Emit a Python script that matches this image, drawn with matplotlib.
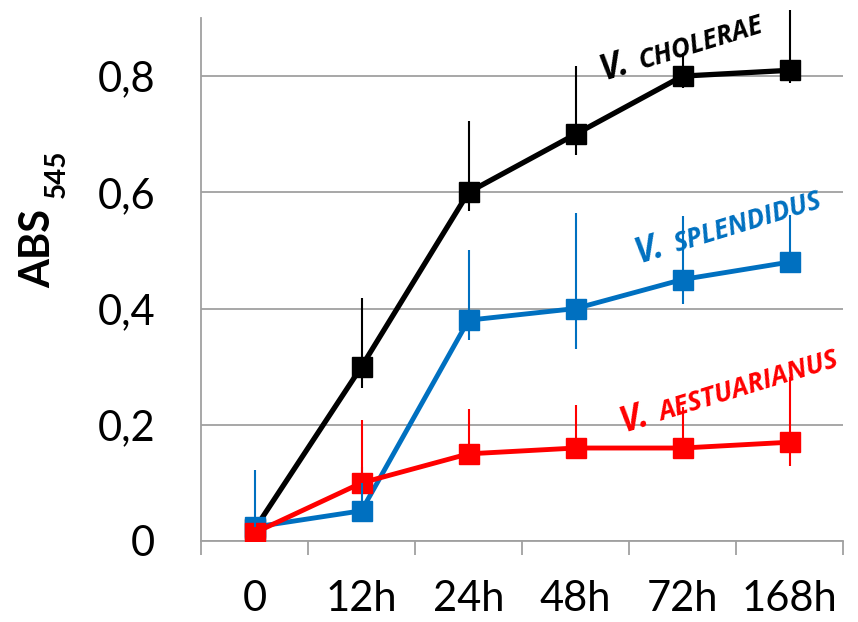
import numpy as np
import matplotlib
matplotlib.use("Agg")
import matplotlib.pyplot as plt
from matplotlib import font_manager

# datos
tiempos = ["0", "12h", "24h", "48h", "72h", "168h"]

cholerae = [0.02, 0.30, 0.60, 0.70, 0.80, 0.81]
cholerae_lo = [0.0, 0.037, 0.032, 0.036, 0.021, 0.022]
cholerae_hi = [0.0, 0.118, 0.123, 0.118, 0.040, 0.104]

splendidus = [0.024, 0.052, 0.38, 0.40, 0.45, 0.48]
splendidus_lo = [0.0, 0.0, 0.034, 0.070, 0.043, 0.0]
splendidus_hi = [0.098, 0.075, 0.120, 0.164, 0.110, 0.081]

aestuarianus = [0.014, 0.10, 0.15, 0.16, 0.16, 0.17]
aest_lo = [0.0, 0.0, 0.0, 0.0, 0.0, 0.041]
aest_hi = [0.0, 0.108, 0.078, 0.074, 0.070, 0.112]

y_ticks = [0, 0.2, 0.4, 0.6, 0.8]

NEGRO = "#000000"
AZUL = "#0070C0"
ROJO = "#FF0000"
GRIS = "#A0A0A0"

plt.rcParams["font.family"] = ["Lato", "DejaVu Sans"]

# fuente con cursiva negrita para los nombres
estilos = {(f.name, f.style, f.weight) for f in font_manager.fontManager.ttflist}
FAM_IT = "DejaVu Sans"
for fam in ["Open Sans", "Noto Sans", "Lato", "Liberation Sans"]:
    if any(n == fam and s == "italic" and (w == 700 or w == "bold") for n, s, w in estilos):
        FAM_IT = fam
        break

fig = plt.figure(figsize=(8.58, 6.22), dpi=100)
ax = fig.add_axes([201 / 858, 81 / 622, 642 / 858, 523 / 622])

x = np.arange(len(tiempos))

series = [
    (cholerae, cholerae_lo, cholerae_hi, NEGRO, 3.8),
    (splendidus, splendidus_lo, splendidus_hi, AZUL, 3.5),
    (aestuarianus, aest_lo, aest_hi, ROJO, 3.5),
]
for i, (vals, lo, hi, col, lw) in enumerate(series):
    ax.plot(x, vals, color=col, lw=lw, marker="s", ms=14, zorder=3 + i,
            solid_joinstyle="miter")
for i, (vals, lo, hi, col, lw) in enumerate(series):
    eb = ax.errorbar(x, vals, yerr=[lo, hi], fmt="none", ecolor=col,
                     elinewidth=1.5, capsize=0, zorder=7 + i)
    for c in eb[2]:
        c.set_clip_on(False)

ax.set_xlim(-0.5, len(tiempos) - 0.5)
ax.set_ylim(0, 0.9)

# ejes
for s in ["top", "right"]:
    ax.spines[s].set_visible(False)
for s in ["left", "bottom"]:
    ax.spines[s].set_color(GRIS)
    ax.spines[s].set_linewidth(1.3)

ax.set_yticks(y_ticks)
ax.set_yticklabels([("%g" % v).replace(".", ",") for v in y_ticks])
ax.tick_params(axis="y", length=0, pad=33, labelsize=30)
ax.yaxis.grid(True, color=GRIS, lw=1.3)
ax.set_axisbelow(True)

ax.set_xticks(np.arange(-0.5, len(tiempos), 1.0))
ax.set_xticklabels([])
ax.tick_params(axis="x", which="major", length=10, width=1.3, color=GRIS)
ax.set_xticks(x, minor=True)
ax.set_xticklabels(tiempos, minor=True)
ax.tick_params(axis="x", which="minor", length=0, pad=28, labelsize=30)

# etiqueta eje Y
fig.text(38 / 858, 373 / 622, "ABS", rotation=90, ha="center", va="center",
         fontsize=30, fontweight="bold")
fig.text(57 / 858, 448 / 622, "545", rotation=90, ha="center", va="center",
         fontsize=20, fontweight="bold")

# nombres de las especies
def etiqueta(xp, yp, resto, col, ang=17, dx=39):
    t = np.deg2rad(ang)
    fig.text(xp / 858, yp / 622, "V.", rotation=ang, rotation_mode="anchor",
             ha="left", va="baseline", fontsize=25, fontweight="bold",
             style="italic", color=col, family=FAM_IT)
    fig.text((xp + dx * np.cos(t)) / 858, (yp + dx * np.sin(t)) / 622, resto,
             rotation=ang, rotation_mode="anchor", ha="left", va="baseline",
             fontsize=19, fontweight="bold", style="italic", color=col,
             family=FAM_IT)

etiqueta(604, 542, "CHOLERAE", NEGRO)
etiqueta(639, 359, "SPLENDIDUS", AZUL)
etiqueta(624, 190, "AESTUARIANUS", ROJO)

fig.savefig("out.png", dpi=100)
